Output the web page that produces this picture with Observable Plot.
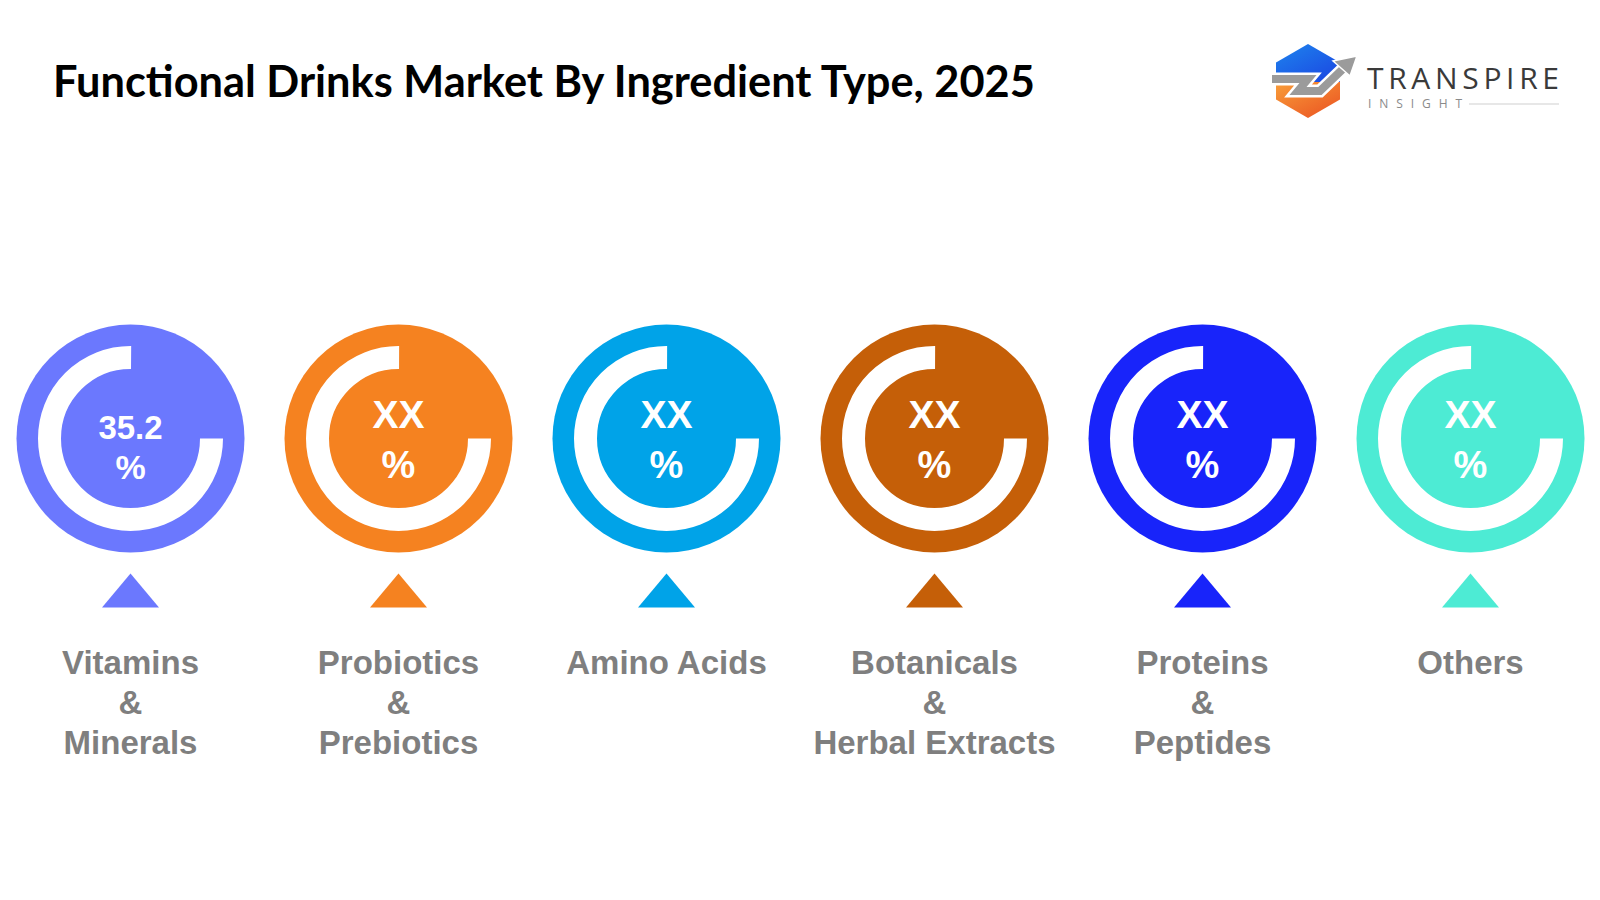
<!DOCTYPE html>
<html>
<head>
<meta charset="utf-8">
<script src="https://cdn.jsdelivr.net/npm/d3@7"></script>
<script src="https://cdn.jsdelivr.net/npm/@observablehq/plot@0.6"></script>
<style>
  html, body { margin: 0; padding: 0; background: #fff; }
  #wrap { position: relative; width: 1600px; height: 900px; overflow: hidden; background: #fff; }
  #chart, #overlay { position: absolute; left: 0; top: 0; }
  #overlay { pointer-events: none; }
</style>
</head>
<body>
<div id="wrap">
  <div id="chart"></div>
  <svg id="overlay" width="1600" height="900" viewBox="0 0 1600 900">
    <defs>
      <linearGradient id="gBlue" x1="0" y1="0" x2="1" y2="1">
        <stop offset="0" stop-color="#1E8BEF"/>
        <stop offset="1" stop-color="#1B3FE0"/>
      </linearGradient>
      <linearGradient id="gOrange" x1="0" y1="0" x2="1" y2="1">
        <stop offset="0" stop-color="#F9A13A"/>
        <stop offset="1" stop-color="#E8461E"/>
      </linearGradient>
      <clipPath id="hexClip">
        <path d="M1308,44 L1340,62.5 L1340,99.5 L1308,118 L1276,99.5 L1276,62.5 Z"/>
      </clipPath>
    </defs>
    <text id="title" x="53" y="97" font-family="Lato, 'Open Sans', sans-serif" font-weight="700" font-size="40" fill="#000">Functional Drinks Market By Ingredient Type, 2025</text>
    <g id="logo">
      <g clip-path="url(#hexClip)">
        <rect x="1270" y="40" width="80" height="42" fill="url(#gBlue)"/>
        <rect x="1270" y="82" width="80" height="40" fill="url(#gOrange)"/>
      </g>
      <polyline points="1272,79 1308,79 1298,91 1320,91 1346,66" fill="none" stroke="#fff" stroke-width="13" stroke-linejoin="miter"/>
      <polyline points="1272,79 1308,79 1298,91 1320,91 1346,66" fill="none" stroke="#9B9B9B" stroke-width="8" stroke-linejoin="miter"/>
      <path d="M1357,56 L1333,61 L1350,76 Z" fill="#9B9B9B" stroke="#fff" stroke-width="1.5"/>
      <text x="1367" y="89" font-family="'Open Sans', sans-serif" font-weight="500" font-size="30" fill="#3A3A3A" textLength="192" lengthAdjust="spacing">TRANSPIRE</text>
      <text x="1368" y="108" font-family="'Open Sans', sans-serif" font-weight="400" font-size="12" fill="#8A8A8A" textLength="94" lengthAdjust="spacing">INSIGHT</text>
      <line x1="1469" y1="104" x2="1559" y2="104" stroke="#CFCFCF" stroke-width="1.2"/>
    </g>
  </svg>
</div>
<script>
// ---- data ----
const categories = [
  "Vitamins & Minerals",
  "Probiotics & Prebiotics",
  "Amino Acids",
  "Botanicals & Herbal Extracts",
  "Proteins & Peptides",
  "Others"
];
const labelLines = [
  "Vitamins\n&\nMinerals",
  "Probiotics\n&\nPrebiotics",
  "Amino Acids",
  "Botanicals\n&\nHerbal Extracts",
  "Proteins\n&\nPeptides",
  "Others"
];
const shares = [35.2, null, null, null, null, null];
const colors = ["#6B78FE", "#F58220", "#00A3E8", "#C55F08", "#1824FA", "#4DEBD4"];

const rows = categories.map((c, i) => ({
  category: c,
  label: labelLines[i],
  share: shares[i],
  color: colors[i]
}));
const known = rows.filter(d => d.share != null);
const unknown = rows.filter(d => d.share == null);

// ---- styling ----
const discR = 114, ringR = 81, ringW = 23;
const circ = 2 * Math.PI * ringR;
const discY = 438;
const font = "'Liberation Sans', Arial, sans-serif";

const pointer = {
  draw(ctx, size) {
    const r = Math.sqrt(size / Math.PI);
    const h = r * 1.2;
    ctx.moveTo(0, -h / 2);
    ctx.lineTo(r, h / 2);
    ctx.lineTo(-r, h / 2);
    ctx.closePath();
  }
};

const chart = Plot.plot({
  width: 1600,
  height: 900,
  margin: 0,
  x: { type: "point", domain: categories, range: [129, 1470], padding: 0, axis: null },
  color: { type: "identity" },
  marks: [
    Plot.dot(rows, { x: "category", frameAnchor: "top", dy: discY, r: discR, fill: "color" }),
    Plot.dot(rows, {
      x: "category", frameAnchor: "top", dy: discY, r: ringR,
      fill: "none", stroke: "white", strokeWidth: ringW,
      strokeDasharray: `${0.75 * circ} ${circ}`
    }),
    Plot.text(known, {
      x: "category", frameAnchor: "top", lineAnchor: "middle", dy: discY - 10,
      text: d => d.share.toFixed(1), fill: "white", fontSize: 33, fontWeight: "bold", fontFamily: font
    }),
    Plot.text(known, {
      x: "category", frameAnchor: "top", lineAnchor: "middle", dy: discY + 30,
      text: () => "%", fill: "white", fontSize: 34, fontWeight: "bold", fontFamily: font
    }),
    Plot.text(unknown, {
      x: "category", frameAnchor: "top", lineAnchor: "middle", dy: discY - 23,
      text: () => "XX", fill: "white", fontSize: 39, fontWeight: "bold", fontFamily: font
    }),
    Plot.text(unknown, {
      x: "category", frameAnchor: "top", lineAnchor: "middle", dy: discY + 27,
      text: () => "%", fill: "white", fontSize: 38, fontWeight: "bold", fontFamily: font
    }),
    Plot.dot(rows, { x: "category", frameAnchor: "top", dy: 590, r: 28.5, symbol: pointer, fill: "color" }),
    Plot.text(rows, {
      x: "category", frameAnchor: "top", dy: 645,
      text: "label", lineAnchor: "top", lineHeight: 40 / 33,
      fill: "#7F7F7F", fontSize: 33, fontWeight: "bold", fontFamily: font
    })
  ]
});
document.getElementById("chart").appendChild(chart);

// fit title width to the reference
const t = document.getElementById("title");
const w = t.getComputedTextLength();
if (w > 0) t.setAttribute("font-size", (40 * 982 / w).toFixed(2));
</script>
</body>
</html>
